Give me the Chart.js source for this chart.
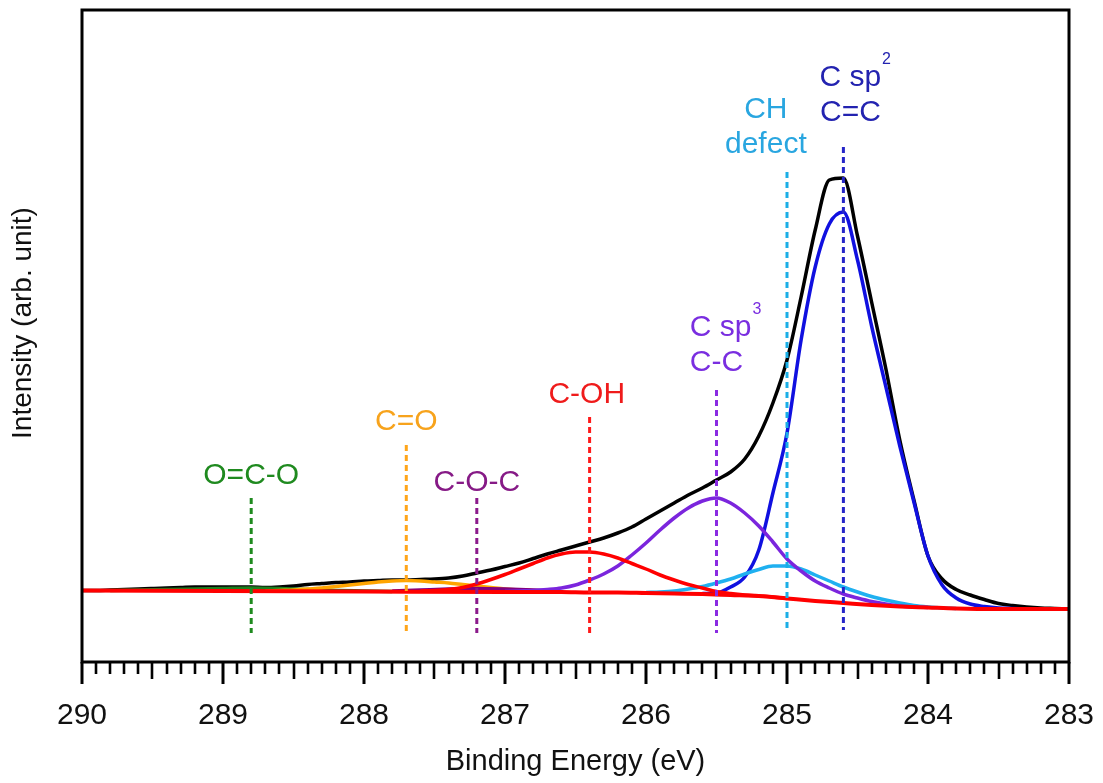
<!DOCTYPE html>
<html><head><meta charset="utf-8">
<script src="https://cdn.jsdelivr.net/npm/chart.js@4.4.1/dist/chart.umd.min.js"></script>
<style>html,body{margin:0;padding:0;background:#fff;}canvas{display:block;}</style>
</head><body>
<canvas id="c" width="1103" height="783"></canvas>
<script>
// ---------------- data (binding energy in eV, intensity in arb. units) ----------------
const energy = [290.0,289.9,289.8,289.7,289.6,289.5,289.4,289.3,289.2,289.1,
  289.0,288.9,288.8,288.7,288.6,288.5,288.4,288.3,288.2,288.1,
  288.0,287.9,287.8,287.7,287.6,287.5,287.4,287.3,287.2,287.1,
  287.0,286.9,286.8,286.7,286.6,286.5,286.4,286.3,286.2,286.1,
  286.0,285.9,285.8,285.7,285.6,285.5,285.4,285.3,285.2,285.1,
  285.0,284.9,284.8,284.7,284.6,284.5,284.4,284.3,284.2,284.1,
  284.0,283.9,283.8,283.7,283.6,283.5,283.4,283.3,283.2,283.1,283.0];
const envelope = [71.5,71.5,72,72.5,73,73.5,74,74.5,75,75,
  75,75,75,74.5,75,76,77.5,78.5,79.5,80,
  81,81.5,82,82,82.5,83,84,86,89,92,
  95.5,99,103.5,108,112,116,120,124,129,135,
  143,151,159,167,174,182,190,203,226,259,
  302,365,432,482,484,426,360,294,222,162,
  106,83,72.5,67,62.5,58.5,56.5,55,54,53.5,53];

const bgEnergy = [290,289,288,287,286.6,286.4,286.2,286.0,285.8,285.6,285.4,285.2,285.0,284.8,284.6,284.4,284.2,284.0,283.8,283.5,283.0];
const background = [71.5,71,70.5,70,70,69.5,69.5,69,68.5,68,67,66,63.5,61,59,57,55.5,54.5,53.5,53,53];

const sp2Energy = [285.6,285.5,285.4,285.3,285.2,285.1,285.0,284.9,284.8,284.7,284.6,284.5,284.4,284.3,284.2,284.1,284.0,283.9,283.8,283.7,283.6,283.5,283.4,283.3];
const sp2 = [68.5,69,75,85,112,169,229,322,395,438,450,402,336,276,216,160,106,77,64,58,55.5,54,53.5,53];

const chEnergy = [286.0,285.9,285.8,285.7,285.6,285.5,285.4,285.3,285.2,285.1,285.0,284.9,284.8,284.7,284.6,284.5,284.4,284.3,284.2,284.1,284.0,283.9,283.8];
const chDefect = [69.5,70,71,73,75.5,79,83,88,92.5,96,96,93,87,81,75,70,65.5,62,59,56.5,55,54,53.5];

const sp3Energy = [287.0,286.9,286.8,286.7,286.6,286.5,286.4,286.3,286.2,286.1,286.0,285.9,285.8,285.7,285.6,285.5,285.4,285.3,285.2,285.1,285.0,284.9,284.8,284.7,284.6,284.5,284.4,284.3,284.2,284.1,284.0];
const sp3 = [70.5,71,71.5,72.5,74,77,82,88,96,107,119,132,144,154,161,164,159,149,136,120,103,91,81,74,68,64,60.5,58,56,55,54.5];

const cohEnergy = [287.6,287.5,287.4,287.3,287.2,287.1,287.0,286.9,286.8,286.7,286.6,286.5,286.4,286.3,286.2,286.1,286.0,285.9,285.8,285.7,285.6,285.5,285.4,285.3,285.2,285.1,285.0];
const coh = [71,71.5,72.5,74.5,78,82.5,87.5,93,98.5,104,108,110,110,108,104,98.5,93,87,82,77.5,74,70.5,68.5,67,66,65,63.5];

const cocEnergy = [287.8,287.6,287.4,287.2,287.0,286.8,286.6];
const coc = [71,72,73,73.5,73,72,70.5];

const coEnergy = [288.7,288.6,288.5,288.4,288.3,288.2,288.1,288.0,287.9,287.8,287.7,287.6,287.5,287.4,287.3,287.2,287.1,287.0,286.9,286.8,286.7];
const co = [71,71.5,72,73,74,75.5,77,78.5,80,81,81.5,81,80,79,77.5,76,74.5,73,72,71.5,71];

const ocoEnergy = [289.8,289.6,289.4,289.2,289.0,288.8,288.6,288.4,288.2,288.0,287.8];
const oco = [71.5,72,72.5,73,73.5,74,73.5,72.5,71.5,71,70.5];

// peak position markers (dotted lines)
const markerEnergy = [288.8,287.7,287.2,286.4,285.5,285.0,284.6];
const markerTop    = [164,217,164,245,272,490,515];
const markerBottom = [29,29,29,29,29,32,32];
const markerColors = ['#1f8a1f','#ffa51a','#8b1a8b','#ff1a1a','#8a2be2','#1aaee6','#2525c8'];

const tickValues = [290,289,288,287,286,285,284,283];

// annotation labels
const labels = [
  {text:'O=C-O', e:288.8, i:186, color:'#1f8a1f'},
  {text:'C=O', e:287.7, i:240, color:'#f7a31c'},
  {text:'C-O-C', e:287.2, i:179, color:'#861a86'},
  {text:'C-OH', e:286.42, i:267, color:'#ef1b1b'},
  {text:'C-C', e:285.5, i:299, color:'#7a2ee0'},
  {text:'C sp', sup:'3', e:285.69, i:334, align:'left', color:'#7a2ee0'},
  {text:'CH', e:285.15, i:552, color:'#29a6e0'},
  {text:'defect', e:285.15, i:517, color:'#29a6e0'},
  {text:'C=C', e:284.55, i:549, color:'#2323b0'},
  {text:'C sp', sup:'2', e:284.77, i:584, align:'left', color:'#2323b0'}
];

// ---------------- chart ----------------
const FONT = '"Liberation Sans", Arial, sans-serif';
const pts = (xs, ys) => xs.map((x, k) => ({x: x, y: ys[k]}));
const curve = (label, xs, ys, color, w) => ({
  label, data: pts(xs, ys), borderColor: color, backgroundColor: color,
  borderWidth: w, pointRadius: 0, fill: false,
  cubicInterpolationMode: 'monotone'
});

const datasets = [];
markerEnergy.forEach((e, k) => {
  datasets.push({
    label: 'marker' + k,
    data: [{x: e, y: markerTop[k]}, {x: e, y: markerBottom[k]}],
    borderColor: markerColors[k], borderWidth: 3, borderDash: [6, 4],
    pointRadius: 0, fill: false, tension: 0
  });
});
datasets.push(curve('Background', bgEnergy, background, '#ff0000', 4));
datasets.push(curve('C-OH', cohEnergy, coh, '#ff0000', 3.5));
datasets.push(curve('C sp3', sp3Energy, sp3, '#7b25dd', 3.5));
datasets.push(curve('CH defect', chEnergy, chDefect, '#1fb0f0', 3.5));
datasets.push(curve('C-O-C', cocEnergy, coc, '#800080', 3.5));
datasets.push(curve('C=O', coEnergy, co, '#ffa500', 3.5));
datasets.push(curve('O=C-O', ocoEnergy, oco, '#1e7f1e', 3.5));
datasets.push(curve('C sp2', sp2Energy, sp2, '#1010e0', 3.5));
datasets.push(curve('Envelope', energy, envelope, '#000000', 3.5));

const decor = {
  id: 'decor',
  afterDraw(chart) {
    const ctx = chart.ctx, a = chart.chartArea;
    const xs = chart.scales.x, ys = chart.scales.y;
    ctx.save();
    // frame
    ctx.strokeStyle = '#000'; ctx.lineWidth = 3;
    ctx.strokeRect(a.left, a.top, a.right - a.left, a.bottom - a.top);
    // ticks (major 1 eV, half 0.5 eV, minor 0.1 eV)
    for (let k = 0; k <= 70; k++) {
      const v = 290 - k / 10;
      const px = Math.round(xs.getPixelForValue(v));
      const len = (k % 10 === 0) ? 22 : (k % 5 === 0 ? 17 : 12);
      ctx.lineWidth = (k % 10 === 0) ? 3 : 2.6;
      ctx.beginPath(); ctx.moveTo(px, a.bottom); ctx.lineTo(px, a.bottom + len); ctx.stroke();
    }
    // y title
    ctx.save();
    ctx.translate(23, 323); ctx.rotate(-Math.PI / 2);
    ctx.font = '28px ' + FONT; ctx.fillStyle = '#111';
    ctx.textAlign = 'center'; ctx.textBaseline = 'middle';
    ctx.fillText('Intensity (arb. unit)', 0, 0);
    ctx.restore();
    // peak labels
    labels.forEach(l => {
      const px = xs.getPixelForValue(l.e), py = ys.getPixelForValue(l.i);
      ctx.font = '30px ' + FONT; ctx.fillStyle = l.color;
      ctx.textBaseline = 'middle';
      ctx.textAlign = l.align || 'center';
      ctx.fillText(l.text, px, py);
      if (l.sup) {
        const w = ctx.measureText(l.text).width;
        ctx.font = '16px ' + FONT; ctx.textAlign = 'left';
        ctx.fillText(l.sup, px + w + 1, py - 18);
      }
    });
    ctx.restore();
  }
};

new Chart(document.getElementById('c'), {
  type: 'line',
  data: {datasets},
  options: {
    responsive: false, animation: false, devicePixelRatio: 1,
    layout: {padding: {left: 82, top: 10, right: 34, bottom: 0}},
    plugins: {legend: {display: false}, tooltip: {enabled: false}},
    scales: {
      x: {
        type: 'linear', min: 283, max: 290, reverse: true,
        grid: {display: false, drawTicks: false}, border: {display: false},
        afterBuildTicks: s => { s.ticks = tickValues.map(v => ({value: v})); },
        afterFit: s => { s.height = 121; s.paddingLeft = 0; s.paddingRight = 0; },
        ticks: {autoSkip: false, maxRotation: 0, padding: 36, color: '#111',
          font: {family: FONT, size: 30}, callback: v => String(v)},
        title: {display: true, text: 'Binding Energy (eV)', color: '#111',
          font: {family: FONT, size: 29}, padding: {top: 0, bottom: 4}}
      },
      y: {type: 'linear', min: 0, max: 652, display: false}
    }
  },
  plugins: [decor]
});
</script>
</body></html>
